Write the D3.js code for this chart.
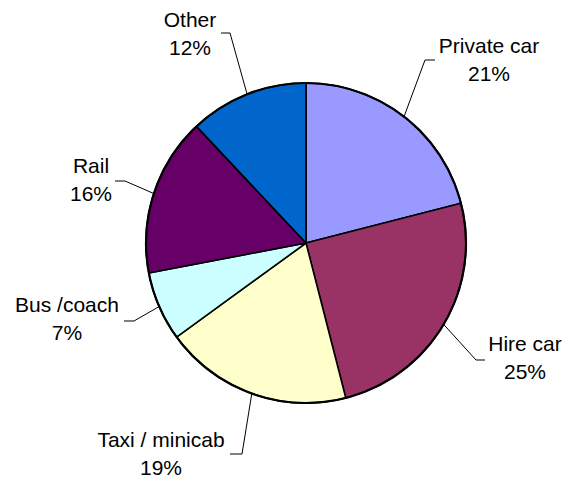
<!DOCTYPE html>
<html>
<head>
<meta charset="utf-8">
<script src="https://cdn.jsdelivr.net/npm/d3@7"></script>
<style>
  html, body { margin: 0; padding: 0; background: #fff; }
  svg { display: block; }
  text { font-family: "Liberation Sans", Arial, sans-serif; font-size: 21px; fill: #000; }
</style>
</head>
<body>
<svg id="chart" width="567" height="479"></svg>
<script>
// ---- data ----
const categories = ["Private car", "Hire car", "Taxi / minicab", "Bus /coach", "Rail", "Other"];
const shares = [21, 25, 19, 7, 16, 12];
const valueLabels = ["21%", "25%", "19%", "7%", "16%", "12%"];

// ---- style / layout ----
const colors = ["#9999FF", "#993366", "#FFFFCC", "#CCFFFF", "#660066", "#0066CC"];
const cx = 306, cy = 243, R = 160;
// label layout: text centre x, first baseline y, elbow point, end of horizontal tick
const labelLayout = [
  { tx: 489, ty: 53,  ex: 425, ey: 60,  hx: 435 },
  { tx: 525, ty: 351, ex: 476, ey: 360, hx: 485 },
  { tx: 161, ty: 447, ex: 242, ey: 454, hx: 230 },
  { tx: 67,  ty: 312, ex: 134, ey: 321, hx: 124 },
  { tx: 91,  ty: 173, ex: 125, ey: 181, hx: 115 },
  { tx: 190, ty: 27,  ex: 230, ey: 33,  hx: 221 }
];
const lineGap = 28;

const svg = d3.select("#chart");
const g = svg.append("g").attr("transform", `translate(${cx},${cy})`);

const pie = d3.pie().sort(null).value(d => d.v);
const data = categories.map((c, i) => ({ c, v: shares[i], lab: valueLabels[i], i }));
const arcs = pie(data);
const arc = d3.arc().innerRadius(0).outerRadius(R);

g.selectAll("path.slice").data(arcs).enter().append("path")
  .attr("class", "slice")
  .attr("d", arc)
  .attr("fill", d => colors[d.data.i])
  .attr("stroke", "#000")
  .attr("stroke-width", 1.6)
  .attr("stroke-linejoin", "round");

// outer rim slightly heavier
g.append("circle").attr("r", R).attr("fill", "none").attr("stroke", "#000").attr("stroke-width", 2.2);

// leader lines
arcs.forEach(d => {
  const L = labelLayout[d.data.i];
  const mid = (d.startAngle + d.endAngle) / 2;
  const px = cx + R * Math.sin(mid), py = cy - R * Math.cos(mid);
  svg.append("polyline")
    .attr("points", `${px},${py} ${L.ex},${L.ey} ${L.hx},${L.ey}`)
    .attr("fill", "none")
    .attr("stroke", "#000")
    .attr("stroke-width", 1);
  const t = svg.append("text").attr("text-anchor", "middle");
  t.append("tspan").attr("x", L.tx).attr("y", L.ty).text(d.data.c);
  t.append("tspan").attr("x", L.tx).attr("y", L.ty + lineGap).text(d.data.lab);
});
</script>
</body>
</html>
